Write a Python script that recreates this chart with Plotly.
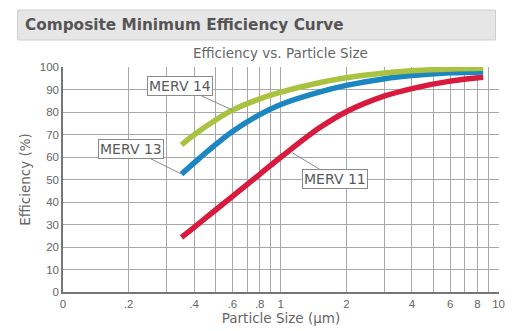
import math
import plotly.graph_objects as go

# ---- data ----
particle_size = [0.35, 0.4, 0.5, 0.6, 0.8, 1, 1.5, 2, 3, 4, 6, 8.5]
merv14 = [65.5, 70, 76.5, 81, 86, 89, 93.2, 95.4, 97.5, 98.5, 99.3, 99.6]
merv13 = [52.5, 57.5, 65.5, 71.5, 79, 83.5, 89, 92, 95, 96.4, 97.6, 98]
merv11 = [24.3, 28.8, 36.4, 42.6, 52.4, 60, 73, 80.3, 87.3, 90.6, 93.9, 95.6]

x_grid_vals = [0.1, 0.2, 0.3, 0.4, 0.5, 0.6, 0.7, 0.8, 0.9,
               1, 2, 3, 4, 5, 6, 7, 8, 9, 10]
x_grid_text = ["0", ".2", "", ".4", "", ".6", "", ".8", "",
               "1", "2", "", "4", "", "6", "", "8", "", "10"]
y_ticks = [0, 10, 20, 30, 40, 50, 60, 70, 80, 90, 100]

series = [
    ("MERV 11", merv11, "#d71a3d"),
    ("MERV 13", merv13, "#1b86c1"),
    ("MERV 14", merv14, "#a9c23f"),
]

FONT = "DejaVu Sans, Liberation Sans, Arial, sans-serif"
TICKFONT = "Liberation Sans, Arial, sans-serif"

fig = go.Figure()
for name, vals, color in series:
    fig.add_trace(go.Scatter(
        x=particle_size, y=vals, mode="lines", name=name,
        line=dict(color=color, width=5.5, shape="spline", smoothing=1.0),
        showlegend=False, hoverinfo="x+y+name",
    ))

# callout labels (x given in log10 units because the axis is logarithmic)
labels = [
    ("MERV 14", 0.6, merv14[3], -52, -24),
    ("MERV 13", particle_size[0], merv13[0], -50, -25),
    ("MERV 11", 1.13, 62, 43, 26),
]
for text, xv, yv, ax, ay in labels:
    fig.add_annotation(
        x=math.log10(xv), y=yv, xref="x", yref="y", text=text,
        showarrow=True, arrowhead=0, arrowwidth=1, arrowcolor="#8a8a8a",
        ax=ax, ay=ay, bgcolor="white", bordercolor="#8a8a8a",
        borderwidth=1, borderpad=1,
        font=dict(family=FONT, size=14, color="#5a5a5a"),
    )

# header bar
fig.add_shape(type="rect", xref="paper", yref="paper",
              x0=-0.104, x1=0.992, y0=1.12, y1=1.253,
              fillcolor="#e6e6e6", line=dict(color="#cfcfcf", width=1),
              layer="below")
fig.add_annotation(
    xref="paper", yref="paper", x=-0.091, y=1.187, xanchor="left",
    yanchor="middle", showarrow=False,
    text="<b>Composite Minimum Efficiency Curve</b>",
    font=dict(family=FONT, size=15.3, color="#555555"),
)
fig.add_annotation(
    xref="paper", yref="paper", x=0.498, y=1.062, xanchor="center",
    yanchor="middle", showarrow=False,
    text="Efficiency vs. Particle Size",
    font=dict(family=FONT, size=13.5, color="#666666"),
)

fig.update_layout(
    width=512, height=331,
    margin=dict(l=63, r=7, t=67, b=39),
    paper_bgcolor="white", plot_bgcolor="white",
    font=dict(family=FONT, size=11, color="#666666"),
)
fig.update_xaxes(
    type="log", range=[-1, 1.002],
    tickvals=x_grid_vals, ticktext=x_grid_text,
    showgrid=True, gridcolor="#a8a8a8", gridwidth=1,
    showline=True, linecolor="#777777", linewidth=1.5,
    ticks="", ticklabeloverflow="allow", zeroline=False,
    title=dict(text="Particle Size (µm)", standoff=3,
               font=dict(family=FONT, size=13.5, color="#666666")),
    tickfont=dict(family=TICKFONT, size=11.5, color="#666666"),
)
fig.update_yaxes(
    range=[0, 100.2], tickvals=y_ticks,
    showgrid=True, gridcolor="#a8a8a8", gridwidth=1,
    showline=True, linecolor="#777777", linewidth=1.5,
    ticks="", zeroline=False,
    title=dict(text="Efficiency (%)", standoff=6,
               font=dict(family=FONT, size=13.5, color="#666666")),
    tickfont=dict(family=TICKFONT, size=11.5, color="#666666"),
)

fig.write_html("out.html", config={"displayModeBar": False},
               post_script="document.body.style.margin='0';")
